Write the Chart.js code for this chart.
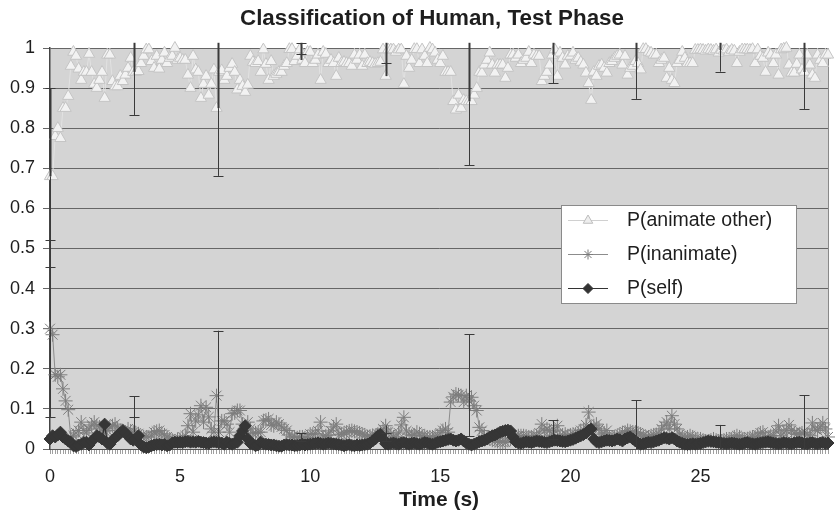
<!DOCTYPE html>
<html>
<head>
<meta charset="utf-8">
<script src="https://cdn.jsdelivr.net/npm/chart.js@4.4.1/dist/chart.umd.min.js"></script>
<style>
html, body { margin: 0; padding: 0; background: #ffffff; }
#wrap { width: 840px; height: 513px; }
</style>
</head>
<body>
<div id="wrap"><canvas id="chart" width="840" height="513"></canvas></div>
<script>
// ----------------------------------------------------------------------
//	data (one value every 0.1 s)
// ----------------------------------------------------------------------
const time_labels = []
for (var it = 0; it < 300; it += 1)
	time_labels.push((it / 10).toFixed(1))

const p_animate = [
	0.68, 0.68, 0.78, 0.80, 0.775, 0.85, 0.85, 0.88, 0.955, 0.99,
	0.98, 0.948, 0.92, 0.94, 0.94, 0.985, 0.94, 0.91, 0.90, 0.92,
	0.94, 0.875, 0.983, 0.983, 0.917, 0.904, 0.904, 0.93, 0.917, 0.933,
	0.95, 0.975, 0.94, 0.94, 0.942, 0.962, 0.98, 0.996, 0.996, 0.967,
	0.95, 0.98, 0.948, 0.97, 0.988, 0.962, 0.975, 0.98, 1.0, 0.97,
	0.975, 0.97, 0.97, 0.933, 0.90, 0.98, 0.946, 0.94, 0.875, 0.91,
	0.93, 0.883, 0.91, 0.946, 0.85, 0.94, 0.944, 0.92, 0.93, 0.95,
	0.96, 0.94, 0.896, 0.92, 0.905, 0.89, 0.908, 0.98, 0.965, 0.962,
	0.967, 0.94, 0.996, 0.96, 0.92, 0.967, 0.93, 0.935, 0.94, 0.94,
	0.955, 0.962, 0.997, 0.997, 0.967, 0.98, 0.996, 0.97, 0.962, 0.99,
	0.99, 0.962, 0.97, 0.983, 0.92, 0.99, 0.985, 0.962, 0.97, 0.962,
	0.93, 0.975, 0.962, 0.965, 0.962, 0.962, 0.955, 0.983, 0.97, 0.983,
	0.955, 0.983, 0.962, 0.965, 0.962, 0.96, 0.962, 0.965, 0.996, 0.93,
	0.996, 0.996, 0.996, 0.99, 0.996, 0.996, 0.91, 0.98, 0.95, 0.97,
	0.997, 0.997, 0.962, 0.996, 0.98, 0.962, 1.0, 0.996, 0.988, 0.97,
	0.962, 0.98, 0.94, 0.94, 0.94, 0.867, 0.846, 0.883, 0.85, 0.87,
	0.867, 0.867, 0.867, 0.883, 0.90, 0.94, 0.938, 0.958, 0.97, 0.988,
	0.958, 0.938, 0.958, 0.958, 0.958, 0.925, 0.95, 0.983, 0.983, 0.975,
	0.983, 0.962, 0.97, 0.975, 0.99, 0.962, 0.983, 0.98, 0.98, 0.917,
	0.93, 0.94, 0.958, 0.983, 0.996, 0.93, 0.988, 0.975, 0.958, 0.98,
	0.98, 0.988, 0.97, 0.975, 0.965, 0.958, 0.938, 0.912, 0.87, 0.94,
	0.93, 0.955, 0.958, 0.95, 0.938, 0.962, 0.967, 0.975, 0.98, 0.983,
	0.958, 0.98, 0.933, 0.95, 0.955, 0.967, 0.962, 0.946, 0.997, 0.997,
	0.99, 0.988, 0.983, 0.983, 0.962, 0.97, 0.975, 0.925, 0.95, 0.92,
	0.912, 0.962, 0.97, 0.99, 0.975, 0.962, 0.962, 0.962, 0.995, 0.995,
	0.996, 0.995, 0.993, 0.996, 0.995, 0.993, 0.996, 0.988, 0.995, 0.993,
	0.996, 0.99, 0.995, 0.993, 0.962, 0.99, 0.996, 0.996, 0.996, 0.995,
	0.997, 0.962, 0.996, 0.98, 0.975, 0.94, 0.988, 0.983, 0.962, 0.983,
	0.933, 0.996, 0.998, 1.0, 0.958, 0.938, 0.938, 0.96, 0.983, 0.946,
	0.94, 0.983, 0.958, 0.933, 0.925, 0.983, 0.97, 0.962, 0.983, 0.983
	]

const p_inanimate = [
	0.30, 0.285, 0.185, 0.18, 0.185, 0.15, 0.12, 0.098, 0.03, 0.033,
	0.04, 0.046, 0.067, 0.046, 0.04, 0.05, 0.06, 0.067, 0.058, 0.055,
	0.05, 0.045, 0.046, 0.055, 0.058, 0.062, 0.05, 0.046, 0.045, 0.042,
	0.05, 0.045, 0.042, 0.04, 0.038, 0.032, 0.03, 0.03, 0.03, 0.035,
	0.042, 0.044, 0.046, 0.038, 0.035, 0.03, 0.025, 0.022, 0.02, 0.024,
	0.024, 0.03, 0.033, 0.058, 0.088, 0.042, 0.07, 0.085, 0.108, 0.067,
	0.104, 0.08, 0.05, 0.042, 0.133, 0.042, 0.07, 0.07, 0.062, 0.042,
	0.088, 0.09, 0.096, 0.096, 0.062, 0.05, 0.067, 0.05, 0.038, 0.04,
	0.042, 0.042, 0.07, 0.072, 0.075, 0.06, 0.058, 0.067, 0.062, 0.055,
	0.05, 0.046, 0.035, 0.03, 0.03, 0.028, 0.03, 0.03, 0.028, 0.03,
	0.037, 0.037, 0.038, 0.045, 0.067, 0.03, 0.033, 0.035, 0.045, 0.055,
	0.062, 0.035, 0.037, 0.04, 0.042, 0.045, 0.046, 0.044, 0.042, 0.04,
	0.037, 0.035, 0.03, 0.032, 0.034, 0.033, 0.037, 0.04, 0.05, 0.058,
	0.042, 0.037, 0.03, 0.03, 0.04, 0.06, 0.079, 0.045, 0.037, 0.033,
	0.035, 0.042, 0.038, 0.033, 0.032, 0.03, 0.03, 0.03, 0.032, 0.033,
	0.04, 0.046, 0.05, 0.042, 0.117, 0.13, 0.137, 0.135, 0.133, 0.117,
	0.133, 0.12, 0.129, 0.108, 0.096, 0.054, 0.046, 0.033, 0.028, 0.025,
	0.022, 0.021, 0.019, 0.017, 0.017, 0.017, 0.022, 0.025, 0.028, 0.03,
	0.033, 0.033, 0.033, 0.032, 0.03, 0.03, 0.032, 0.033, 0.04, 0.062,
	0.045, 0.05, 0.046, 0.033, 0.045, 0.058, 0.033, 0.035, 0.037, 0.033,
	0.035, 0.037, 0.037, 0.04, 0.046, 0.048, 0.06, 0.092, 0.054, 0.058,
	0.062, 0.05, 0.037, 0.04, 0.046, 0.03, 0.028, 0.03, 0.033, 0.037,
	0.04, 0.042, 0.046, 0.044, 0.042, 0.042, 0.04, 0.037, 0.033, 0.03,
	0.03, 0.033, 0.035, 0.036, 0.037, 0.05, 0.058, 0.067, 0.05, 0.083,
	0.062, 0.05, 0.037, 0.03, 0.028, 0.03, 0.033, 0.03, 0.025, 0.025,
	0.025, 0.022, 0.02, 0.02, 0.022, 0.025, 0.022, 0.02, 0.02, 0.022,
	0.025, 0.025, 0.025, 0.03, 0.033, 0.03, 0.025, 0.025, 0.025, 0.028,
	0.03, 0.03, 0.035, 0.04, 0.042, 0.03, 0.03, 0.033, 0.033, 0.045,
	0.058, 0.033, 0.04, 0.047, 0.06, 0.046, 0.04, 0.037, 0.037, 0.04,
	0.042, 0.037, 0.033, 0.065, 0.05, 0.046, 0.055, 0.065, 0.05, 0.03
	]

const p_self = [
	0.025, 0.033, 0.03, 0.035, 0.042, 0.03, 0.025, 0.02, 0.017, 0.008,
	0.006, 0.01, 0.012, 0.016, 0.017, 0.01, 0.02, 0.025, 0.033, 0.03,
	0.025, 0.062, 0.015, 0.012, 0.022, 0.028, 0.033, 0.04, 0.046, 0.04,
	0.033, 0.025, 0.022, 0.025, 0.033, 0.01, 0.005, 0.003, 0.005, 0.008,
	0.01, 0.011, 0.012, 0.01, 0.011, 0.008, 0.01, 0.015, 0.017, 0.016,
	0.017, 0.016, 0.018, 0.019, 0.017, 0.018, 0.017, 0.019, 0.017, 0.016,
	0.015, 0.014, 0.017, 0.018, 0.017, 0.016, 0.015, 0.012, 0.017, 0.014,
	0.012, 0.015, 0.017, 0.033, 0.045, 0.058, 0.025, 0.014, 0.012, 0.008,
	0.01, 0.017, 0.013, 0.012, 0.011, 0.01, 0.01, 0.008, 0.007, 0.007,
	0.01, 0.011, 0.01, 0.01, 0.008, 0.009, 0.01, 0.012, 0.01, 0.011,
	0.012, 0.013, 0.014, 0.015, 0.014, 0.012, 0.013, 0.015, 0.014, 0.013,
	0.012, 0.011, 0.01, 0.008, 0.01, 0.011, 0.009, 0.008, 0.01, 0.009,
	0.01, 0.011, 0.012, 0.015, 0.02, 0.025, 0.033, 0.037, 0.025, 0.013,
	0.012, 0.014, 0.015, 0.013, 0.012, 0.015, 0.016, 0.014, 0.012, 0.014,
	0.015, 0.013, 0.012, 0.014, 0.016, 0.015, 0.013, 0.012, 0.014, 0.017,
	0.018, 0.02, 0.022, 0.024, 0.025, 0.022, 0.02, 0.022, 0.025, 0.02,
	0.015, 0.012, 0.01, 0.012, 0.015, 0.018, 0.02, 0.022, 0.025, 0.03,
	0.033, 0.035, 0.038, 0.042, 0.044, 0.046, 0.047, 0.045, 0.03, 0.018,
	0.015, 0.014, 0.016, 0.018, 0.017, 0.016, 0.018, 0.02, 0.019, 0.018,
	0.017, 0.016, 0.018, 0.02, 0.022, 0.021, 0.02, 0.019, 0.018, 0.02,
	0.022, 0.024, 0.027, 0.03, 0.033, 0.036, 0.04, 0.046, 0.05, 0.025,
	0.018, 0.016, 0.018, 0.02, 0.022, 0.021, 0.02, 0.022, 0.025, 0.023,
	0.02, 0.025, 0.028, 0.03, 0.025, 0.02, 0.015, 0.012, 0.013, 0.015,
	0.017, 0.016, 0.018, 0.02, 0.022, 0.025, 0.028, 0.027, 0.025, 0.028,
	0.025, 0.02, 0.017, 0.014, 0.012, 0.011, 0.012, 0.013, 0.012, 0.013,
	0.014, 0.016, 0.018, 0.02, 0.019, 0.018, 0.017, 0.016, 0.015, 0.014,
	0.013, 0.014, 0.015, 0.014, 0.013, 0.012, 0.013, 0.015, 0.016, 0.014,
	0.013, 0.012, 0.014, 0.015, 0.016, 0.017, 0.018, 0.016, 0.015, 0.014,
	0.013, 0.014, 0.016, 0.015, 0.014, 0.013, 0.015, 0.016, 0.017, 0.015,
	0.014, 0.013, 0.015, 0.016, 0.014, 0.013, 0.015, 0.016, 0.014, 0.015
	]

// error bars (seconds, low, high)
const err_time = [0, 3.22, 6.44, 9.66, 12.9, 16.1, 19.32, 22.54, 25.76, 28.98]
const err_animate_low  = [0.455, 0.833, 0.681, 0.985, 0.962, 0.708, 0.9125, 0.873, 0.941, 0.848]
const err_animate_high = [0.90, 1.10, 1.20, 1.013, 1.05, 1.20, 1.06, 1.10, 1.05, 1.10]
const err_inanimate_low  = [0.08, 0.081, -0.03, 0.02, 0.02, 0.032, 0.025, -0.01, -0.01, -0.01]
const err_inanimate_high = [0.52, 0.131, 0.295, 0.04, 0.04, 0.286, 0.072, 0.122, 0.06, 0.134]

const series_names = ["P(animate other)", "P(inanimate)", "P(self)"]
const chart_title = "Classification of Human, Test Phase"

// ----------------------------------------------------------------------
const font_family = "'Liberation Sans', Arial, Helvetica, sans-serif"
const y_top_clip = 1.013

const plot_bg = {
	id: 'plot_bg',
	beforeDraw (chart)
	{
	const aa = chart.chartArea
	const ctx = chart.ctx
	ctx.save()
	ctx.fillStyle = '#d4d4d4'
	ctx.fillRect(aa.left, aa.top, aa.right - aa.left, aa.bottom - aa.top)
	ctx.strokeStyle = '#8a8a8a'
	ctx.lineWidth = 1
	ctx.beginPath()
	ctx.moveTo(aa.right + 0.5, aa.top)
	ctx.lineTo(aa.right + 0.5, aa.bottom)
	ctx.stroke()

	// title, centred over the plot as in the original
	ctx.fillStyle = '#1e1e1e'
	ctx.font = "bold 22.4px " + font_family
	ctx.textAlign = 'center'
	ctx.textBaseline = 'middle'
	ctx.fillText(chart_title, 432, 19)
	ctx.restore()
	}
}

// ----------------------------------------------------------------------
function draw_bar (ctx, xs, ys, tt, low, high, mid, upper_width)
{
	const xx = Math.round(xs.getPixelForValue(tt * 10)) + 0.5
	const cap_low = low >= 0
	const cap_high = high <= y_top_clip
	const y_low = ys.getPixelForValue(Math.max(low, 0))
	const y_high = ys.getPixelForValue(Math.min(high, y_top_clip))
	const y_mid = ys.getPixelForValue(mid)

	ctx.lineWidth = 1
	ctx.beginPath()
	ctx.moveTo(xx, y_low)
	ctx.lineTo(xx, y_mid)
	ctx.stroke()

	ctx.lineWidth = upper_width
	ctx.beginPath()
	ctx.moveTo(xx, y_mid)
	ctx.lineTo(xx, y_high)
	ctx.stroke()

	ctx.lineWidth = 1
	ctx.beginPath()
	if (cap_low)
		{
		ctx.moveTo(xx - 5, Math.round(y_low) + 0.5)
		ctx.lineTo(xx + 5, Math.round(y_low) + 0.5)
		}
	if (cap_high)
		{
		ctx.moveTo(xx - 5, Math.round(y_high) + 0.5)
		ctx.lineTo(xx + 5, Math.round(y_high) + 0.5)
		}
	ctx.stroke()
}

const error_bars = {
	id: 'error_bars',
	afterDatasetsDraw (chart)
	{
	const ctx = chart.ctx
	const xs = chart.scales.x
	const ys = chart.scales.y
	ctx.save()
	ctx.strokeStyle = '#3a3a3a'
	for (var it = 0; it < err_time.length; it += 1)
		{
		const idx = Math.round(err_time[it] * 10)
		draw_bar (ctx, xs, ys, err_time[it], err_animate_low[it],
			err_animate_high[it], p_animate[idx], 2)
		draw_bar (ctx, xs, ys, err_time[it], err_inanimate_low[it],
			err_inanimate_high[it], p_inanimate[idx], 1)
		}
	ctx.restore()
	}
}

// ----------------------------------------------------------------------
const legend_style = [
	{ line: '#d0d0d0', fill: '#eeeeee', border: '#bdbdbd', style: 'triangle', radius: 5.5 },
	{ line: '#8c8c8c', fill: '#808080', border: '#7a7a7a', style: 'star', radius: 5 },
	{ line: '#333333', fill: '#333333', border: '#333333', style: 'rectRot', radius: 5 }
	]

const legend_box = {
	id: 'legend_box',
	afterDraw (chart)
	{
	const ctx = chart.ctx
	ctx.save()
	ctx.fillStyle = '#ffffff'
	ctx.fillRect(561, 205, 235, 98)
	ctx.strokeStyle = '#8a8a8a'
	ctx.lineWidth = 1
	ctx.strokeRect(561.5, 205.5, 235, 98)

	for (var it = 0; it < series_names.length; it += 1)
		{
		const yy = 220.5 + it * 34
		const st = legend_style[it]
		ctx.strokeStyle = st.line
		ctx.lineWidth = 1
		ctx.beginPath()
		ctx.moveTo(568, yy)
		ctx.lineTo(608, yy)
		ctx.stroke()

		ctx.fillStyle = st.fill
		ctx.strokeStyle = st.border
		Chart.helpers.drawPoint(ctx,
			{ pointStyle: st.style, radius: st.radius, rotation: 0, borderWidth: 1 },
			588, yy)

		ctx.fillStyle = '#1e1e1e'
		ctx.font = "19.5px " + font_family
		ctx.textBaseline = 'middle'
		ctx.textAlign = 'left'
		ctx.fillText(series_names[it], 627, yy)
		}
	ctx.restore()
	}
}

// ----------------------------------------------------------------------
function prog01 ()
{
	const graph_data = {
		labels: time_labels,
		datasets: [
			{ label: series_names[0], data: p_animate, order: 0,
			borderColor: '#e2e2e2', borderWidth: 1,
			pointStyle: 'triangle', pointRadius: 6.5,
			pointBackgroundColor: '#f2f2f2', pointBorderColor: '#c4c4c4',
			pointBorderWidth: 1, clip: false },
			{ label: series_names[1], data: p_inanimate, order: 2,
			borderColor: '#8c8c8c', borderWidth: 1,
			pointStyle: 'star', pointRadius: 7,
			pointBackgroundColor: '#7a7a7a', pointBorderColor: '#7d7d7d',
			pointBorderWidth: 1, clip: false },
			{ label: series_names[2], data: p_self, order: 1,
			borderColor: '#333333', borderWidth: 1.5,
			pointStyle: 'rectRot', pointRadius: 6,
			pointBackgroundColor: '#363636', pointBorderColor: '#363636',
			pointBorderWidth: 1, clip: false }
			]
		}

	const options = {
		responsive: false,
		animation: false,
		events: [],
		layout: { padding: { left: 0, right: 5, top: 48, bottom: 0 } },
		elements: { line: { tension: 0 } },
		plugins: {
			legend: { display: false },
			tooltip: { enabled: false },
			title: { display: false }
			},
		scales: {
			x: {
				type: 'category',
				offset: false,
				grid: { display: true, drawOnChartArea: false, drawTicks: true,
					tickLength: 5, color: '#a0a0a0' },
				border: { display: true, color: '#555555', width: 1 },
				ticks: {
					autoSkip: false, maxRotation: 0, minRotation: 0, padding: 12,
					color: '#1e1e1e',
					font: { family: font_family, size: 18 },
					callback: function (value, index) {
						return (index % 50 === 0) ? String(index / 10) : ''
						}
					},
				title: { display: true, text: 'Time (s)', color: '#1e1e1e',
					font: { family: font_family, size: 21, weight: 'bold' },
					padding: { top: 0, bottom: 0 } },
				afterFit: function (scale) { scale.height = 64 }
				},
			y: {
				type: 'linear',
				min: 0, max: 1,
				grid: { color: '#666666', lineWidth: 1, tickLength: 7 },
				border: { display: true, color: '#444444', width: 1.5 },
				ticks: {
					stepSize: 0.1, padding: 8, color: '#1e1e1e',
					font: { family: font_family, size: 18 },
					callback: function (value) { return String(Math.round(value * 10) / 10) }
					},
				afterFit: function (scale) { scale.width = 50 }
				}
			}
		}

	const config = {
		type: 'line',
		data: graph_data,
		options: options,
		plugins: [plot_bg, error_bars, legend_box]
		}

	const context = document.getElementById("chart")
	const chart = new Chart(context, config)
}

prog01 ()
</script>
</body>
</html>
